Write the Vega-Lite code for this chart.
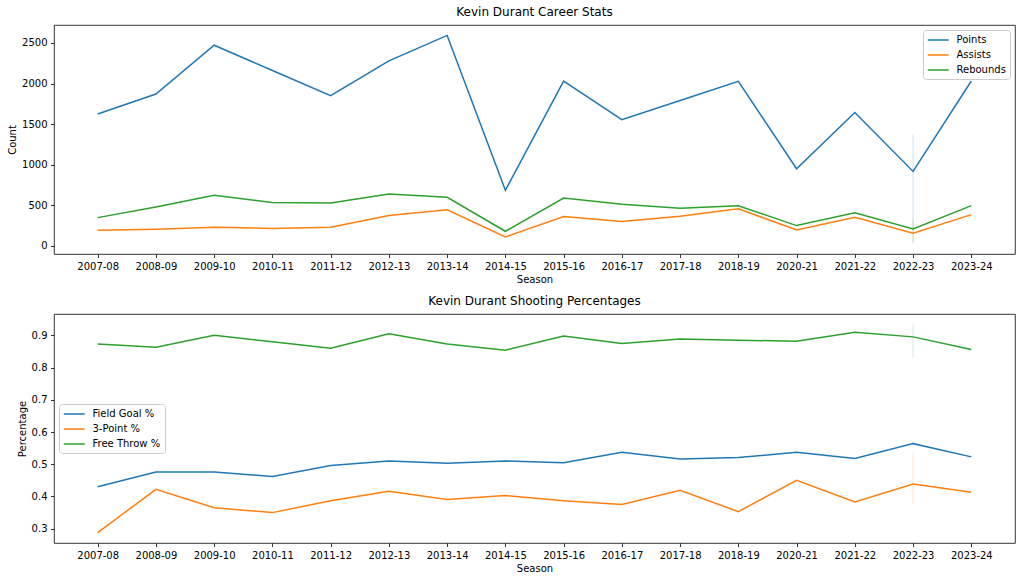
{
  "$schema": "https://vega.github.io/schema/vega-lite/v6.json",
  "padding": {"left": 7, "top": 5, "right": 8, "bottom": 5},
  "background": "white",
  "config": {
    "font": "DejaVu Sans",
    "view": {"stroke": "#000", "strokeWidth": 0.8},
    "axis": {"domain": false, "grid": false, "tickColor": "#000", "tickWidth": 0.8, "tickSize": 3.5, "labelPadding": 3.5, "labelFontSize": 10, "labelColor": "#000", "titleFontSize": 10, "titleFontWeight": "normal", "titleColor": "#000", "labelOverlap": false},
    "axisX": {"labelAngle": 0, "titlePadding": 3},
    "axisY": {"titlePadding": 4},
    "title": {"fontSize": 12, "fontWeight": "normal", "color": "#000", "offset": 6},
    "legend": {"labelFontSize": 10, "labelColor": "#000", "symbolType": "M-1,0H3", "symbolSize": 110.25, "symbolStrokeWidth": 1.5, "symbolOpacity": 1, "rowPadding": 4, "padding": 4, "fillColor": "white", "strokeColor": "#cccccc", "cornerRadius": 3, "labelOffset": 17.5, "title": null}
  },
  "datasets": {
    "counts": [
      {"season": "2007-08", "Points": 1624, "Assists": 192, "Rebounds": 348},
      {"season": "2008-09", "Points": 1871, "Assists": 205, "Rebounds": 480},
      {"season": "2009-10", "Points": 2472, "Assists": 231, "Rebounds": 623},
      {"season": "2010-11", "Points": 2161, "Assists": 215, "Rebounds": 533},
      {"season": "2011-12", "Points": 1850, "Assists": 231, "Rebounds": 527},
      {"season": "2012-13", "Points": 2280, "Assists": 374, "Rebounds": 640},
      {"season": "2013-14", "Points": 2593, "Assists": 445, "Rebounds": 598},
      {"season": "2014-15", "Points": 686, "Assists": 110, "Rebounds": 180},
      {"season": "2015-16", "Points": 2029, "Assists": 361, "Rebounds": 589},
      {"season": "2016-17", "Points": 1555, "Assists": 300, "Rebounds": 512},
      {"season": "2017-18", "Points": 1792, "Assists": 366, "Rebounds": 464},
      {"season": "2018-19", "Points": 2027, "Assists": 457, "Rebounds": 494},
      {"season": "2020-21", "Points": 950, "Assists": 195, "Rebounds": 250},
      {"season": "2021-22", "Points": 1643, "Assists": 352, "Rebounds": 409},
      {"season": "2022-23", "Points": 1376, "Assists": 234, "Rebounds": 313},
      {"season": "2022-23", "Points": 1166, "Assists": 206, "Rebounds": 262},
      {"season": "2022-23", "Points": 210, "Assists": 28, "Rebounds": 51},
      {"season": "2023-24", "Points": 2031, "Assists": 385, "Rebounds": 496}
    ],
    "shooting": [
      {"season": "2007-08", "Field Goal %": 0.430, "3-Point %": 0.288, "Free Throw %": 0.873},
      {"season": "2008-09", "Field Goal %": 0.476, "3-Point %": 0.422, "Free Throw %": 0.863},
      {"season": "2009-10", "Field Goal %": 0.476, "3-Point %": 0.365, "Free Throw %": 0.900},
      {"season": "2010-11", "Field Goal %": 0.462, "3-Point %": 0.350, "Free Throw %": 0.880},
      {"season": "2011-12", "Field Goal %": 0.496, "3-Point %": 0.387, "Free Throw %": 0.860},
      {"season": "2012-13", "Field Goal %": 0.510, "3-Point %": 0.416, "Free Throw %": 0.905},
      {"season": "2013-14", "Field Goal %": 0.503, "3-Point %": 0.391, "Free Throw %": 0.873},
      {"season": "2014-15", "Field Goal %": 0.510, "3-Point %": 0.403, "Free Throw %": 0.854},
      {"season": "2015-16", "Field Goal %": 0.505, "3-Point %": 0.387, "Free Throw %": 0.898},
      {"season": "2016-17", "Field Goal %": 0.537, "3-Point %": 0.375, "Free Throw %": 0.875},
      {"season": "2017-18", "Field Goal %": 0.516, "3-Point %": 0.419, "Free Throw %": 0.889},
      {"season": "2018-19", "Field Goal %": 0.521, "3-Point %": 0.353, "Free Throw %": 0.885},
      {"season": "2020-21", "Field Goal %": 0.537, "3-Point %": 0.450, "Free Throw %": 0.882},
      {"season": "2021-22", "Field Goal %": 0.518, "3-Point %": 0.383, "Free Throw %": 0.910},
      {"season": "2022-23", "Field Goal %": 0.560, "3-Point %": 0.404, "Free Throw %": 0.919},
      {"season": "2022-23", "Field Goal %": 0.559, "3-Point %": 0.376, "Free Throw %": 0.934},
      {"season": "2022-23", "Field Goal %": 0.573, "3-Point %": 0.537, "Free Throw %": 0.833},
      {"season": "2023-24", "Field Goal %": 0.523, "3-Point %": 0.413, "Free Throw %": 0.856}
    ]
  },
  "bounds": "flush",
  "spacing": 60,
  "vconcat": [
    {
      "title": "Kevin Durant Career Stats",
      "width": 961,
      "height": 229,
      "data": {"name": "counts"},
      "transform": [{"fold": ["Points", "Assists", "Rebounds"], "as": ["stat", "value"]}],
      "encoding": {
        "x": {"field": "season", "type": "nominal", "title": "Season", "scale": {"type": "point", "padding": 0.75}, "axis": {"labelOverlap": false}},
        "color": {"field": "stat", "type": "nominal", "scale": {"domain": ["Points", "Assists", "Rebounds"], "range": ["#1f77b4", "#ff7f0e", "#2ca02c"]}, "legend": {"orient": "top-right", "offset": 5}}
      },
      "layer": [
        {
          "mark": {"type": "rule", "opacity": 0.15, "strokeWidth": 1.5},
          "encoding": {
            "y": {"aggregate": "min", "field": "value", "type": "quantitative", "title": "Count", "axis": {"values": [0, 500, 1000, 1500, 2000, 2500], "format": "d", "labelOverlap": false}},
            "y2": {"aggregate": "max", "field": "value"}
          }
        },
        {
          "mark": {"type": "line", "strokeWidth": 1.5},
          "encoding": {
            "y": {"aggregate": "mean", "field": "value", "type": "quantitative", "title": "Count", "scale": {"domain": [-100, 2721], "nice": false, "zero": false}, "axis": {"values": [0, 500, 1000, 1500, 2000, 2500], "format": "d", "labelOverlap": false}}
          }
        }
      ]
    },
    {
      "title": "Kevin Durant Shooting Percentages",
      "width": 961,
      "height": 229,
      "data": {"name": "shooting"},
      "transform": [{"fold": ["Field Goal %", "3-Point %", "Free Throw %"], "as": ["stat", "value"]}],
      "encoding": {
        "x": {"field": "season", "type": "nominal", "title": "Season", "scale": {"type": "point", "padding": 0.75}, "axis": {"labelOverlap": false}},
        "color": {"field": "stat", "type": "nominal", "scale": {"domain": ["Field Goal %", "3-Point %", "Free Throw %"], "range": ["#1f77b4", "#ff7f0e", "#2ca02c"]}, "legend": {"orient": "none", "legendX": 5, "legendY": 90}}
      },
      "layer": [
        {
          "mark": {"type": "rule", "opacity": 0.15, "strokeWidth": 1.5},
          "encoding": {
            "y": {"aggregate": "min", "field": "value", "type": "quantitative", "title": "Percentage", "axis": {"values": [0.3, 0.4, 0.5, 0.6, 0.7, 0.8, 0.9], "format": ".1f", "labelOverlap": false}},
            "y2": {"aggregate": "max", "field": "value"}
          }
        },
        {
          "mark": {"type": "line", "strokeWidth": 1.5},
          "encoding": {
            "y": {"aggregate": "mean", "field": "value", "type": "quantitative", "title": "Percentage", "scale": {"domain": [0.2557, 0.9663], "nice": false, "zero": false}, "axis": {"values": [0.3, 0.4, 0.5, 0.6, 0.7, 0.8, 0.9], "format": ".1f", "labelOverlap": false}}
          }
        }
      ]
    }
  ],
  "resolve": {"scale": {"color": "independent"}}
}
